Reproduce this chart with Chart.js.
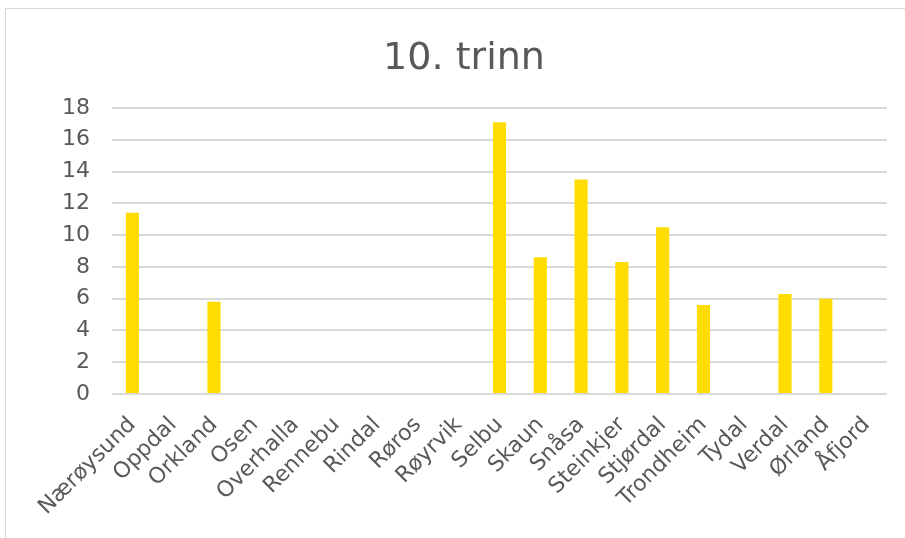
<!DOCTYPE html>
<html>
<head>
<meta charset="utf-8">
<script src="https://cdn.jsdelivr.net/npm/chart.js@4"></script>
<style>
  html, body { margin: 0; padding: 0; background: #ffffff; }
  #wrap { position: relative; width: 905px; height: 538px; }
  #frame { position: absolute; left: 5px; top: 8px; width: 920px; height: 560px; border: 1px solid #d9d9d9; box-sizing: border-box; }
  canvas { position: absolute; left: 0; top: 0; }
</style>
</head>
<body>
<div id="wrap">
  <div id="frame"></div>
  <canvas id="c" width="905" height="538"></canvas>
</div>
<script>
const categories = ["Nærøysund","Oppdal","Orkland","Osen","Overhalla","Rennebu","Rindal","Røros","Røyrvik","Selbu","Skaun","Snåsa","Steinkjer","Stjørdal","Trondheim","Tydal","Verdal","Ørland","Åfjord"];
const values = [11.4, null, 5.8, null, null, null, null, null, null, 17.1, 8.6, 13.5, 8.3, 10.5, 5.6, null, 6.3, 6.0, null];
const yTicks = [0, 2, 4, 6, 8, 10, 12, 14, 16, 18];
const titleText = "10. trinn";

const textColor = '#595959';
const fontFamily = "'DejaVu Sans', Verdana, sans-serif";

new Chart(document.getElementById('c'), {
  type: 'bar',
  data: {
    labels: categories,
    datasets: [{
      data: values,
      backgroundColor: '#FFDD00',
      borderWidth: 0,
      barPercentage: 0.62,
      categoryPercentage: 0.52
    }]
  },
  options: {
    responsive: false,
    animation: false,
    devicePixelRatio: 1,
    layout: { padding: { left: 41, right: 18, top: 0, bottom: 0 } },
    plugins: {
      legend: { display: false },
      tooltip: { enabled: false },
      title: {
        display: true,
        text: titleText,
        color: textColor,
        font: { family: fontFamily, size: 38, weight: 'normal', lineHeight: 1.2 },
        padding: { top: 36, bottom: 26.4 }
      }
    },
    scales: {
      x: {
        grid: { display: false, drawTicks: false },
        border: { display: false },
        ticks: {
          color: textColor,
          font: { family: fontFamily, size: 22 },
          minRotation: 45,
          maxRotation: 45,
          autoSkip: false,
          padding: 18
        },
        afterFit: function(scale) { scale.height = 538 - 394; }
      },
      y: {
        min: 0,
        max: 18,
        afterBuildTicks: function(scale) { scale.ticks = yTicks.map(v => ({ value: v })); },
        grid: { color: '#d9d9d9', lineWidth: 2, drawTicks: false },
        border: { display: false },
        ticks: {
          color: textColor,
          font: { family: fontFamily, size: 22 },
          padding: 22
        },
        afterFit: function(scale) { scale.width = 112 - 41; }
      }
    }
  }
});
</script>
</body>
</html>
